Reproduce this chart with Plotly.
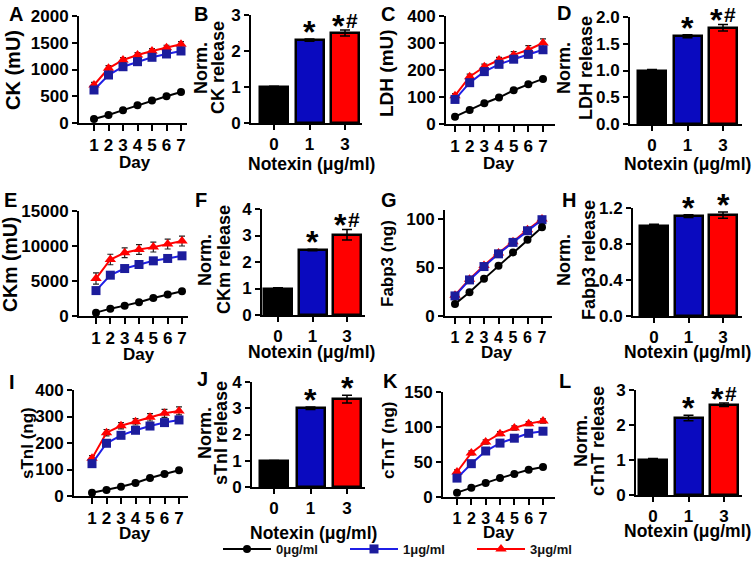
import plotly.graph_objects as go

W, H = 755, 572
FONT = "Liberation Sans, Arial, sans-serif"

# ---------------- data ----------------
days = [1, 2, 3, 4, 5, 6, 7]
groups = ["0μg/ml", "1μg/ml", "3μg/ml"]
dose_labels = ["0", "1", "3"]

ck_0 = [75, 150, 240, 330, 420, 500, 578]
ck_1 = [617, 897, 1052, 1146, 1228, 1290, 1346]
ck_3 = [710, 1022, 1178, 1271, 1346, 1408, 1471]
ck_0_err = [10, 10, 15, 18, 20, 20, 25]
ck_1_err = [40, 40, 40, 40, 40, 40, 45]
ck_3_err = [50, 50, 45, 45, 45, 45, 50]

ldh_0 = [27, 52, 77, 98, 125, 147, 167]
ldh_1 = [91, 153, 194, 221, 240, 258, 275]
ldh_3 = [105, 175, 212, 237, 256, 275, 300]
ldh_0_err = [3, 3, 4, 4, 5, 5, 6]
ldh_1_err = [8, 10, 10, 10, 10, 12, 12]
ldh_3_err = [8, 10, 10, 10, 12, 15, 15]

ckm_0 = [480, 1050, 1480, 1960, 2580, 3060, 3540]
ckm_1 = [3630, 5830, 6780, 7360, 7880, 8220, 8600]
ckm_3 = [5350, 8070, 9030, 9510, 9840, 10270, 10700]
ckm_0_err = [100, 100, 150, 150, 150, 200, 200]
ckm_1_err = [300, 300, 300, 300, 300, 300, 300]
ckm_3_err = [800, 750, 700, 700, 700, 700, 700]

fabp_0 = [12.4, 24.5, 38.3, 51.7, 65.5, 78.6, 91.4]
fabp_1 = [20.7, 37.2, 51.0, 64.1, 75.9, 87.9, 99.3]
fabp_3 = [21.5, 38.0, 52.0, 65.0, 76.5, 89.0, 100.0]
fabp_0_err = [1, 1, 1, 1, 1, 1.5, 1.5]
fabp_1_err = [1.5, 1.5, 1.5, 1.5, 1.5, 2, 2]
fabp_3_err = [1.5, 1.5, 1.5, 1.5, 1.5, 2, 2]

stni_0 = [12.6, 22.6, 35, 49, 68, 83, 97]
stni_1 = [122, 199, 229, 248, 264, 277, 287]
stni_3 = [142, 239, 265, 280, 297, 312, 321]
stni_0_err = [2, 2, 3, 3, 3, 4, 4]
stni_1_err = [8, 8, 8, 10, 10, 10, 10]
stni_3_err = [10, 12, 12, 12, 14, 15, 15]

ctnt_0 = [6.2, 13.3, 20, 27, 33, 39, 43]
ctnt_1 = [27, 47.6, 65.7, 77, 84, 91, 94]
ctnt_3 = [35.7, 63, 78.6, 90.5, 98.6, 104.8, 108.6]
ctnt_0_err = [1, 1, 1, 1, 1, 1.5, 1.5]
ctnt_1_err = [3, 3, 3, 3, 3, 3, 3]
ctnt_3_err = [3, 3, 3, 3, 3, 3, 3]

ck_norm = [1.0, 2.30, 2.50]
ck_norm_err = [0.02, 0.03, 0.08]
ck_sig = ["", "*", "*#"]
ldh_norm = [1.0, 1.64, 1.80]
ldh_norm_err = [0.02, 0.03, 0.06]
ldh_sig = ["", "*", "*#"]
ckm_norm = [1.0, 2.45, 3.03]
ckm_norm_err = [0.03, 0.03, 0.2]
ckm_sig = ["", "*", "*#"]
fabp_norm = [1.0, 1.11, 1.12]
fabp_norm_err = [0.02, 0.015, 0.035]
fabp_sig = ["", "*", "*"]
stni_norm = [1.0, 3.0, 3.35]
stni_norm_err = [0.01, 0.05, 0.15]
stni_sig = ["", "*", "*"]
ctnt_norm = [1.0, 2.2, 2.58]
ctnt_norm_err = [0.04, 0.08, 0.05]
ctnt_sig = ["", "*", "*#"]

ticks_ck = [0, 500, 1000, 1500, 2000]
ticks_ldh = [0, 100, 200, 300, 400]
ticks_ckm = [0, 5000, 10000, 15000]
ticks_fabp = [0, 50, 100]
ticks_stni = [0, 100, 200, 300, 400]
ticks_ctnt = [0, 50, 100, 150]
ticks_n3 = [0, 1, 2, 3]
ticks_n4 = [0, 1, 2, 3, 4]
ticks_ldhn = [0.0, 0.5, 1.0, 1.5, 2.0]
ticks_fabpn = [0.0, 0.4, 0.8, 1.2]

# ---------------- styles ----------------
LINE_COLORS = ["#000000", "#1f1fe6", "#ff0000"]
MARK_COLORS = ["#000000", "#1c1c9c", "#ff0000"]
BAR_COLORS = ["#000000", "#0a0abf", "#ff0000"]
SYMBOLS = ["circle", "square", "triangle-up"]
MARK_SIZES = [8, 9, 10]

line_panels = [
    dict(letter="A", title="CK (mU)", s=[ck_0, ck_1, ck_3], e=[ck_0_err, ck_1_err, ck_3_err],
         ticks=ticks_ck, top=2000, g=(79, 94, 181, 187, 16, 123), dfs=17,
         lpos=(16, 14), tpos=(13, 70), tsize=20, dpos=(135, 162)),
    dict(letter="C", title="LDH (mU)", s=[ldh_0, ldh_1, ldh_3], e=[ldh_0_err, ldh_1_err, ldh_3_err],
         ticks=ticks_ldh, top=400, g=(446, 455, 543, 555, 16, 124), dfs=17,
         lpos=(388, 14), tpos=(387, 73), tsize=19, dpos=(499, 163)),
    dict(letter="E", title="CKm (mU)", s=[ckm_0, ckm_1, ckm_3], e=[ckm_0_err, ckm_1_err, ckm_3_err],
         ticks=ticks_ckm, top=15000, g=(79, 96, 182, 188, 211, 316), dfs=17,
         lpos=(10, 200), tpos=(10, 265), tsize=19.5, dpos=(139, 354)),
    dict(letter="G", title="Fabp3 (ng)", s=[fabp_0, fabp_1, fabp_3], e=[fabp_0_err, fabp_1_err, fabp_3_err],
         ticks=ticks_fabp, top=109.3, g=(445, 455, 542, 552, 210, 316), dfs=16,
         lpos=(389, 200), tpos=(387, 264), tsize=17, dpos=(497, 352)),
    dict(letter="I", title="sTnI (ng)", s=[stni_0, stni_1, stni_3], e=[stni_0_err, stni_1_err, stni_3_err],
         ticks=ticks_stni, top=400, g=(74, 92, 179, 188, 390, 496), dfs=17,
         lpos=(12, 382), tpos=(27, 443), tsize=17, dpos=(135, 533)),
    dict(letter="K", title="cTnT (ng)", s=[ctnt_0, ctnt_1, ctnt_3], e=[ctnt_0_err, ctnt_1_err, ctnt_3_err],
         ticks=ticks_ctnt, top=150, g=(443, 457, 543, 555, 392, 497), dfs=16,
         lpos=(390, 381), tpos=(388, 441), tsize=17, dpos=(499, 532)),
]

bar_panels = [
    dict(letter="B", title=("Norm.", "CK release"), v=ck_norm, e=ck_norm_err, sig=ck_sig,
         ticks=ticks_n3, top=3, fmt="d", g=(251, 274, 345, 362, 15, 123),
         lpos=(201, 14), tx=(201, 218), ty=68, npos=(311, 164)),
    dict(letter="D", title=("Norm.", "LDH release"), v=ldh_norm, e=ldh_norm_err, sig=ldh_sig,
         ticks=ticks_ldhn, top=2.0, fmt=".1f", g=(630, 652, 723, 742, 17, 124),
         lpos=(564, 13), tx=(564, 586), ty=68, npos=(687, 164)),
    dict(letter="F", title=("Norm.", "CKm release"), v=ckm_norm, e=ckm_norm_err, sig=ckm_sig,
         ticks=ticks_n4, top=4, fmt="d", g=(262, 278, 347, 365, 209, 315),
         lpos=(201, 200), tx=(205, 224), ty=260, npos=(311, 352)),
    dict(letter="H", title=("Norm.", "Fabp3 release"), v=fabp_norm, e=fabp_norm_err, sig=fabp_sig,
         ticks=ticks_fabpn, top=1.2, fmt=".1f", g=(633, 654, 723, 742, 208, 316),
         lpos=(569, 200), tx=(564, 589), ty=260, npos=(687, 352)),
    dict(letter="J", title=("Norm.", "sTnI release"), v=stni_norm, e=stni_norm_err, sig=stni_sig,
         ticks=ticks_n4, top=4, fmt="d", g=(252, 274, 347, 365, 382, 487),
         lpos=(202, 379), tx=(205, 221), ty=433, npos=(313, 533)),
    dict(letter="L", title=("Norm.", "cTnT release"), v=ctnt_norm, e=ctnt_norm_err, sig=ctnt_sig,
         ticks=ticks_n3, top=3, fmt="d", g=(636, 653, 724, 742, 390, 495),
         lpos=(565, 381), tx=(581, 598), ty=441, npos=(687, 531)),
]

tickfont = dict(family=FONT, size=17, color="black", weight="bold")
axis_common = dict(showline=True, linecolor="black", linewidth=2, ticks="outside",
                   ticklen=5, tickwidth=2, tickcolor="black", showgrid=False,
                   zeroline=False, tickfont=tickfont, fixedrange=True, automargin=False)

fig = go.Figure()
layout = {}
annotations = []


def ann(text, x, y, size, angle=0, **kw):
    annotations.append(dict(text=text, x=x / W, y=1 - y / H, xref="paper", yref="paper",
                            showarrow=False, textangle=angle, xanchor="center", yanchor="middle",
                            font=dict(family=FONT, size=size, color="black", weight="bold"), **kw))


idx = 0
for p in line_panels:
    idx += 1
    xa, ya = f"x{idx}", f"y{idx}"
    x0, d1, d7, xe, yt, yz = p["g"]
    ppd = (d7 - d1) / 6
    layout[f"xaxis{idx}"] = dict(axis_common, domain=[x0 / W, xe / W], anchor=ya,
                                 range=[1 - (d1 - x0) / ppd, 7 + (xe - d7) / ppd],
                                 tickvals=days, ticklen=6,
                                 tickfont=dict(tickfont, size=p["dfs"]))
    layout[f"yaxis{idx}"] = dict(axis_common, domain=[1 - yz / H, 1 - yt / H], anchor=xa,
                                 range=[0, p["top"]], tickvals=p["ticks"], tickformat="d")
    for gi in [2, 1, 0]:
        fig.add_trace(go.Scatter(
            x=days, y=p["s"][gi], xaxis=xa, yaxis=ya, mode="lines+markers", name=groups[gi],
            error_y=dict(type="data", array=p["e"][gi], color="#222222", thickness=1.2, width=3),
            line=dict(color=LINE_COLORS[gi], width=2),
            marker=dict(symbol=SYMBOLS[gi], size=MARK_SIZES[gi], color=MARK_COLORS[gi]),
            cliponaxis=False, showlegend=(idx == 1), legendrank=gi + 1))
    ann(p["letter"], *p["lpos"], 20)
    ann(p["title"], *p["tpos"], p["tsize"], angle=-90)
    ann("Day", *p["dpos"], 17)

for p in bar_panels:
    idx += 1
    xa, ya = f"x{idx}", f"y{idx}"
    x0, c0, c2, xe, yt, yz = p["g"]
    ppd = (c2 - c0) / 2
    layout[f"xaxis{idx}"] = dict(axis_common, domain=[x0 / W, xe / W], anchor=ya,
                                 range=[-(c0 - x0) / ppd, 2 + (xe - c2) / ppd],
                                 tickvals=[0, 1, 2], ticktext=dose_labels)
    layout[f"yaxis{idx}"] = dict(axis_common, domain=[1 - yz / H, 1 - yt / H], anchor=xa,
                                 range=[0, p["top"]], tickvals=p["ticks"], tickformat=p["fmt"])
    fig.add_trace(go.Bar(
        x=[0, 1, 2], y=p["v"], xaxis=xa, yaxis=ya, width=28 / ppd, showlegend=False,
        marker=dict(color=BAR_COLORS, line=dict(color="black", width=2.5)),
        error_y=dict(type="data", array=p["e"], color="black", thickness=1.5, width=5)))
    for k, s in enumerate(p["sig"]):
        if not s:
            continue
        top = p["v"][k] + p["e"][k]
        if s == "*":
            annotations.append(dict(text="*", x=k, y=top, xref=xa, yref=ya, showarrow=False,
                                    xanchor="center", yanchor="bottom", yshift=-13,
                                    font=dict(family=FONT, size=32, color="black", weight="bold")))
        else:
            annotations.append(dict(text="*", x=k, y=top, xref=xa, yref=ya, showarrow=False,
                                    xanchor="center", yanchor="bottom", yshift=-16, xshift=-7,
                                    font=dict(family=FONT, size=32, color="black", weight="bold")))
            annotations.append(dict(text="#", x=k, y=top, xref=xa, yref=ya, showarrow=False,
                                    xanchor="center", yanchor="bottom", yshift=-4, xshift=7,
                                    font=dict(family=FONT, size=21, color="black", weight="bold")))
    ann(p["letter"], *p["lpos"], 20)
    ann(p["title"][0], p["tx"][0], p["ty"], 18, angle=-90)
    ann(p["title"][1], p["tx"][1], p["ty"], 18, angle=-90)
    ann("Notexin (μg/ml)", *p["npos"], 17.5)

layout["xaxis"] = layout.pop("xaxis1")
layout["yaxis"] = layout.pop("yaxis1")

fig.update_layout(
    width=W, height=H, margin=dict(l=0, r=0, t=0, b=0, pad=0, autoexpand=False),
    paper_bgcolor="white", plot_bgcolor="white",
    font=dict(family=FONT, color="black"),
    showlegend=True,
    legend=dict(orientation="h", x=218 / W, xanchor="left", y=1 - 549 / H, yanchor="middle",
                entrywidth=64, entrywidthmode="pixels", itemwidth=48,
                font=dict(family="Liberation Sans Narrow, " + FONT, size=13, color="#111", weight="bold"),
                bgcolor="rgba(0,0,0,0)", traceorder="normal"),
    annotations=annotations,
    bargap=0,
    **layout,
)

fig.write_html("out.html", config={"displayModeBar": False},
               post_script="document.body.style.margin='0';")
